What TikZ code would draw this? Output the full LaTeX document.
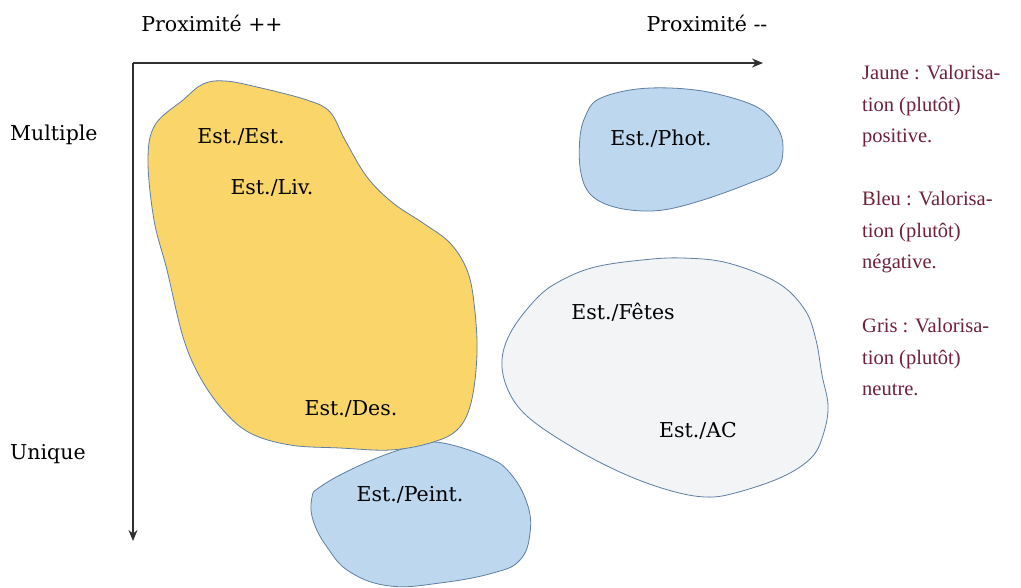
\documentclass[tikz,border=0pt]{standalone}
\usepackage{fontspec}
\setmainfont{Liberation Serif}
\newfontfamily\lblfont{DejaVu Serif}
\usetikzlibrary{arrows.meta}
\definecolor{yel}{HTML}{FAD66A}
\definecolor{blu}{HTML}{BDD7EE}
\definecolor{gry}{HTML}{F2F4F5}
\definecolor{edge}{HTML}{5E7FA3}
\definecolor{leg}{HTML}{6E2138}
\definecolor{axis}{HTML}{303030}
\tikzset{
  blob/.style={draw=edge, line width=0.8pt},
  lbl/.style={font=\lblfont\fontsize{20.5}{24}\selectfont, text=black, inner sep=0pt},
  axlbl/.style={font=\lblfont\fontsize{20.5}{24}\selectfont, text=black, inner sep=0pt},
  legtxt/.style={font=\fontsize{20.5}{31.7}\selectfont, text=leg, align=left, inner sep=0pt, anchor=north west},
  axisline/.style={draw=axis, line width=1.5pt, -{Stealth[length=11pt,width=9pt]}}
}
\begin{document}
\begin{tikzpicture}[x=1pt,y=-1pt]
\useasboundingbox[fill=white] (0,0) rectangle (1021,587);
% bottom blue blob (under yellow)
\path[blob, fill=blu] plot[smooth cycle, tension=0.7] coordinates {(420,445) (443,443) (487,457) (510,473) (527,503) (530,533) (520,560) (493,573) (440,583) (390,586) (350,572) (327,547) (313,520) (312,497) (320,487) (350,470) (390,453)};
% yellow blob
\path[blob, fill=yel] plot[smooth cycle, tension=0.6] coordinates {(203,84) (225,81) (257,87) (307,100) (330,112) (345,140) (367,177) (393,203) (423,223) (450,243) (467,270) (474,303) (477,353) (471,403) (457,430) (430,443) (390,450) (340,448) (290,445) (250,433) (223,410) (200,377) (183,337) (167,270) (154,220) (148,160) (155,125) (183,100)};
% top blue blob
\path[blob, fill=blu] plot[smooth cycle, tension=0.6] coordinates {(597,100) (630,90) (670,88) (713,93) (757,107) (777,127) (783,147) (777,170) (750,183) (703,200) (663,210) (630,210) (603,203) (587,190) (580,167) (580,137) (585,117)};
% gray blob
\path[blob, fill=gry] plot[smooth cycle, tension=0.6] coordinates {(595,267) (642,260) (682,258) (728,263) (778,283) (805,310) (816,340) (822,375) (828,405) (824,432) (812,457) (782,477) (735,493) (705,497) (668,490) (622,473) (572,447) (528,417) (508,390) (502,360) (512,330) (538,297) (562,280)};
% axes
\coordinate (origin) at (133,63);
\coordinate (xend) at (763,63);
\coordinate (yend) at (133,541);
\draw[axisline] (origin) -- (xend);
\draw[axisline] (origin) -- (yend);
% axis labels
\node[axlbl] (pp) at (212,23) {Proximité ++};
\node[axlbl] (pm) at (707,23) {Proximité --};
\node[axlbl, anchor=west] (mult) at (10,135) {Multiple};
\node[axlbl, anchor=west] (uniq) at (10,454) {Unique};
% blob labels
\node[lbl] (ee) at (241,137) {Est./Est.};
\node[lbl] (el) at (272,188) {Est./Liv.};
\node[lbl] (ed) at (351,409) {Est./Des.};
\node[lbl] (ep) at (661,139) {Est./Phot.};
\node[lbl] (ef) at (623,312) {Est./Fêtes};
\node[lbl] (ea) at (698,431) {Est./AC};
\node[lbl] (ei) at (410,495) {Est./Peint.};
% legend
\node[legtxt] (l1) at (862,65) {Jaune : Valorisa-\\tion (plutôt)\\positive.};
\node[legtxt] (l2) at (862,191) {Bleu : Valorisa-\\tion (plutôt)\\négative.};
\node[legtxt] (l3) at (862,318) {Gris : Valorisa-\\tion (plutôt)\\neutre.};
\end{tikzpicture}
\end{document}
